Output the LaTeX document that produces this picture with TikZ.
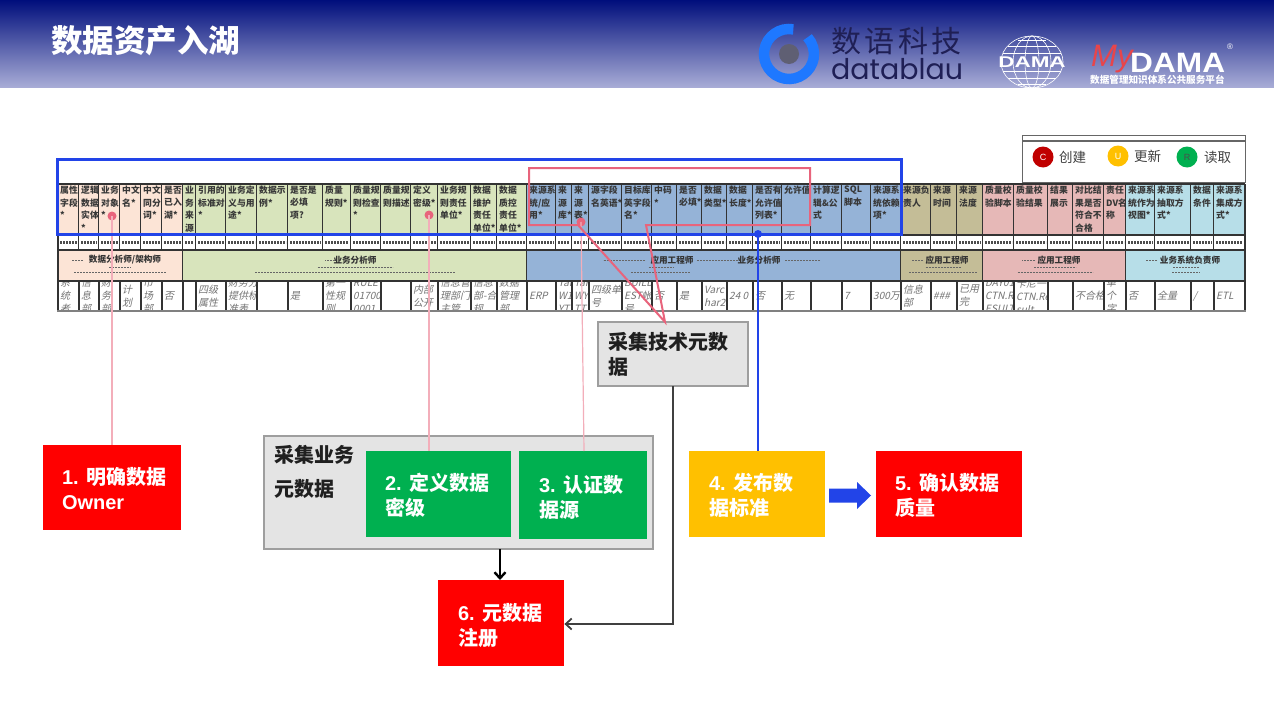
\documentclass[tikz,border=0pt]{standalone}
\usepackage{fontspec}
\setmainfont{Noto Sans CJK SC}
\newfontfamily\lat{Liberation Sans}
\newfontfamily\rowfnt{Noto Sans CJK SC}[FakeSlant=0.22]
\newfontfamily\popp{Poppins}
\usetikzlibrary{arrows.meta,calc}
\definecolor{cpeach}{HTML}{FCE4D6}
\definecolor{cgreen}{HTML}{D8E4BC}
\definecolor{cblue}{HTML}{95B3D7}
\definecolor{ctan}{HTML}{C4BD97}
\definecolor{cpink}{HTML}{E6B8B7}
\definecolor{csky}{HTML}{B7DEE8}
\definecolor{grid}{HTML}{333333}
\definecolor{markpink}{HTML}{E8647C}
\definecolor{softpink}{HTML}{F3AEBA}
\definecolor{markblue}{HTML}{2244E8}
\definecolor{boxred}{HTML}{FF0000}
\definecolor{boxgreen}{HTML}{00B050}
\definecolor{boxyellow}{HTML}{FFC000}
\definecolor{boxgray}{HTML}{E4E4E4}
\definecolor{logoink}{HTML}{1F1F55}
\definecolor{bannertop}{HTML}{000E7C}
\definecolor{bannerbot}{HTML}{A8ACD6}
\definecolor{logoblue}{HTML}{1E78FF}
\definecolor{logogray}{HTML}{5F5F73}
\definecolor{myred}{HTML}{E8454A}
\definecolor{darkred}{HTML}{C00000}
\tikzset{
  stepbox/.style={anchor=north west,inner sep=0pt,outer sep=0pt,align=left,text=white,font=\bfseries\fontsize{20}{25.5}\selectfont},
  graybox/.style={anchor=north west,inner sep=0pt,outer sep=0pt,fill=boxgray,draw=black!38,line width=1.1pt},
  gridline/.style={draw=grid,line width=1.5pt},
  headtext/.style={anchor=north west,inner sep=0pt,align=left,text=black!78,font=\bfseries\fontsize{8.8}{12.5}\selectfont},
  rowtext/.style={anchor=west,inner sep=0pt,align=left,text=black!55,font=\rowfnt\fontsize{10}{13}\selectfont},
  bandtext/.style={inner sep=0pt,text=black!80,font=\bfseries\fontsize{8.6}{10}\selectfont},
  micro/.style={draw=black!70,line width=2.2pt,dash pattern=on 2pt off 1pt},
  tinyline/.style={draw=black!60,line width=1pt,dash pattern=on 2pt off 1pt},
  softlead/.style={draw=softpink,line width=1.2pt},
  pinkmark/.style={draw=markpink,line width=2pt,line join=miter},
  bluemark/.style={draw=markblue,line width=3pt},
  markdot/.style={circle,inner sep=0pt,minimum size=9pt,fill=markpink},
  legenddot/.style={circle,inner sep=0pt,minimum size=21pt,font=\lat\fontsize{9}{9}\selectfont},
  legendtext/.style={anchor=west,inner sep=0pt,text=black!75,font=\fontsize{13.5}{14}\selectfont},
  barb/.style={-{Straight Barb[length=6pt,width=11pt]}}
}
% x0, x1, head fill, head text, bottom row text
\newcommand\tcol[5]{%
  \fill[#3] (#1,184) rectangle (#2,235);
  \node[headtext] (h#1) at ($(#1,186)+(2,0)$) {#4};
  \fill[white] (#1,235) rectangle (#2,250);
  \draw[micro] ($(#1,242.5)+(2,0)$) -- ($(#2,242.5)+(-2,0)$);
  \begin{scope}
    \clip (#1,281) rectangle (#2,310);
    \node[rowtext] (r#1) at ($(#1,296)+(2,0)$) {#5};
  \end{scope}
  \draw[gridline] (#2,184) -- (#2,250) (#2,281) -- (#2,310);
}
% x0, x1, fill, centre, subwidth a, subwidth b
\newcommand\tband[6]{%
  \fill[#3] (#1,250) rectangle (#2,281);
  \draw[gridline] (#2,250) -- (#2,281);
  \draw[tinyline] ($(#4,267)+(-#5/2,0)$) -- ($(#4,267)+(#5/2,0)$);
  \draw[tinyline] ($(#4,272.5)+(-#6/2,0)$) -- ($(#4,272.5)+(#6/2,0)$);
}
\begin{document}
\begin{tikzpicture}[x=1pt,y=-1pt]
\useasboundingbox (0,0) rectangle (1274,720);
\fill[white] (0,0) rectangle (1274,720);
% banner
\shade[top color=bannertop,bottom color=bannerbot] (0,0) rectangle (1274,87);
\node[anchor=west,inner sep=0pt,text=white,font=\bfseries\fontsize{31.5}{32}\selectfont] (title) at (51,41) {数据资产入湖};
% datablau logo
\begin{scope}[shift={(789,54)},y=1pt]
  \draw[color=logoblue,line width=10.5pt] (80:25) arc[start angle=80,end angle=402,radius=25];
  \fill[color=logogray] (0,0) circle (10);
\end{scope}
\node[anchor=west,inner sep=0pt,text=logoink,font=\fontsize{30}{31}\selectfont] (lcn) at (831,41) {数\hspace{3.5pt}语\hspace{3.5pt}科\hspace{3.5pt}技};
\node[anchor=west,inner sep=0pt,text=logoink,font=\popp\fontsize{28.5}{29}\selectfont] (len) at (831,69) {datablau};
% DAMA globe
\begin{scope}[shift={(1032,62)},y=1pt]
  \begin{scope}[draw=white,line width=.6pt]
    \draw (0,0) ellipse (31 and 26);
    \draw (0,0) ellipse (19 and 26);
    \draw (0,0) ellipse (7 and 26);
    \draw (-24,16) -- (24,16) (-29,9) -- (29,9) (-29,-9) -- (29,-9) (-24,-16) -- (24,-16) (-14,-22) -- (14,-22) (-14,22) -- (14,22);
  \end{scope}
\end{scope}
\node[inner sep=0pt,text=white,xscale=1.45,font=\lat\bfseries\fontsize{15.5}{16}\selectfont] (gdama) at (1032,62) {DAMA};
% MyDAMA
\node[anchor=west,inner sep=0pt,text=myred,font=\lat\itshape\fontsize{31}{32}\selectfont] (my) at (1091,59) {My};
\node[anchor=base west,inner sep=0pt,text=white,xscale=1.13,font=\lat\bfseries\fontsize{28}{28}\selectfont] (mdama) at (1130,72) {DAMA};
\node[inner sep=0pt,text=white,font=\lat\fontsize{8}{8}\selectfont] (reg) at (1230,47) {®};
\node[anchor=west,inner sep=0pt,text=white,font=\bfseries\fontsize{9.6}{10}\selectfont] (msub) at (1090,80) {数据管理知识体系公共服务平台};
% legend
\node[anchor=north west,inner sep=0pt,draw=black!60,line width=1.3pt,fill=white,minimum width=223pt,minimum height=47pt] (legend) at (1022,135) {};
\draw[black!60,line width=1.2pt] (legend.north west) ++(0,6) -- ++(223,0);
\node[legenddot,fill=darkred,text=white] (lc) at (1043,157) {C};
\node[legendtext] (lct) at (1059,157) {创建};
\node[legenddot,fill=boxyellow,text=white] (lu) at (1118,156) {U};
\node[legendtext] (lut) at (1134,156) {更新};
\node[legenddot,fill=boxgreen,text=black!70] (lr) at (1187,157) {R};
\node[legendtext] (lrt) at (1204,157) {读取};
% table
\tcol{58}{79}{cpeach}{属性\\字段\\*}{系\\统\\者}
\tcol{79}{99}{cpeach}{逻辑\\数据\\实体\\*}{信\\息\\部}
\tcol{99}{120}{cpeach}{业务\\对象\\*}{财\\务\\部}
\tcol{120}{141}{cpeach}{中文\\名*}{计\\划}
\tcol{141}{162}{cpeach}{中文\\同分\\词*}{市\\场\\部}
\tcol{162}{183}{cpeach}{是否\\已入\\湖*}{否}
\tcol{183}{196}{cgreen}{业\\务\\来\\源}{}
\tcol{196}{226}{cgreen}{引用的\\标准对\\*}{四级\\属性}
\tcol{226}{257}{cgreen}{业务定\\义与用\\途*}{财务分\\提供标\\准表}
\tcol{257}{288}{cgreen}{数据示\\例*}{}
\tcol{288}{323}{cgreen}{是否是\\必填\\项?}{是}
\tcol{323}{351}{cgreen}{质量\\规则*}{第一\\性规\\则}
\tcol{351}{381}{cgreen}{质量规\\则检查\\*}{RULE\\01700\\0001}
\tcol{381}{411}{cgreen}{质量规\\则描述}{}
\tcol{411}{438}{cgreen}{定义\\密级*}{内部\\公开}
\tcol{438}{471}{cgreen}{业务规\\则责任\\单位*}{信息管\\理部门\\主管}
\tcol{471}{497}{cgreen}{数据\\维护\\责任\\单位*}{信息\\部-合\\规}
\tcol{497}{527}{cgreen}{数据\\质控\\责任\\单位*}{数据\\管理\\部}
\tcol{527}{556}{cblue}{来源系\\统/应\\用*}{ERP}
\tcol{556}{572}{cblue}{来\\源\\库*}{Tar\\W1\\YT}
\tcol{572}{589}{cblue}{来\\源\\表*}{Tar\\WY\\TT}
\tcol{589}{622}{cblue}{源字段\\名英语*}{四级单\\号}
\tcol{622}{652}{cblue}{目标库\\英字段\\名*}{BUILD\\EST帐\\号}
\tcol{652}{677}{cblue}{中码\\*}{否}
\tcol{677}{702}{cblue}{是否\\必填*}{是}
\tcol{702}{727}{cblue}{数据\\类型*}{Varc\\har2}
\tcol{727}{753}{cblue}{数据\\长度*}{24 0}
\tcol{753}{782}{cblue}{是否有\\允许值\\列表*}{否}
\tcol{782}{811}{cblue}{允许值}{无}
\tcol{811}{842}{cblue}{计算逻\\辑\&公\\式}{}
\tcol{842}{871}{cblue}{SQL\\脚本}{7}
\tcol{871}{901}{cblue}{来源系\\统依赖\\项*}{300万}
\tcol{901}{931}{ctan}{来源负\\责人}{信息\\部}
\tcol{931}{957}{ctan}{来源\\时间}{\#\#\#}
\tcol{957}{983}{ctan}{来源\\法度}{已用\\完}
\tcol{983}{1014}{cpink}{质量校\\验脚本}{DAY01\\CTN.R\\ESULT}
\tcol{1014}{1048}{cpink}{质量校\\验结果}{卡尼一\\CTN.Re\\sult}
\tcol{1048}{1073}{cpink}{结果\\展示}{}
\tcol{1073}{1104}{cpink}{对比结\\果是否\\符合不\\合格}{不合格}
\tcol{1104}{1126}{cpink}{责任\\DV名\\称}{单\\个\\字}
\tcol{1126}{1155}{csky}{来源系\\统作为\\视图*}{否}
\tcol{1155}{1191}{csky}{来源系\\抽取方\\式*}{全量}
\tcol{1191}{1214}{csky}{数据\\条件}{/}
\tcol{1214}{1245}{csky}{来源系\\集成方\\式*}{ETL}
\tband{58}{183}{cpeach}{120}{22}{92}
\tband{183}{527}{cgreen}{355}{75}{200}
\tband{527}{901}{cblue}{661}{25}{60}
\tband{901}{983}{ctan}{943}{35}{68}
\tband{983}{1126}{cpink}{1055}{42}{75}
\tband{1126}{1245}{csky}{1186}{26}{28}
\node[bandtext] (b1t) at (125,260) {数据分析师/架构师};
\node[bandtext] (b2t) at (355,260) {业务分析师};
\node[bandtext] (b3t) at (672,260) {应用工程师};
\node[bandtext] (b3u) at (759,260) {业务分析师};
\node[bandtext] (b4t) at (947,260) {应用工程师};
\node[bandtext] (b5t) at (1059,260) {应用工程师};
\node[bandtext] (b6t) at (1190,260) {业务系统负责师};
\draw[tinyline] (83,260) -- (72,260) (335,260) -- (325,260) (645,260) -- (603,260) (738,260) -- (697,260) (820,260) -- (785,260) (923,260) -- (912,260) (1035,260) -- (1022,260) (1157,260) -- (1146,260);
\draw[gridline] (58,184) -- (58,310);
\draw[gridline] (58,184) -- (1245,184);
\draw[gridline] (58,235) -- (1245,235);
\draw[gridline] (58,250) -- (1245,250);
\draw[gridline] (58,281) -- (1245,281);
\draw[draw=black!50,line width=1.8pt] (57,311) -- (1246,311);
% lower boxes
\node[graybox,minimum width=389pt,minimum height=113pt] (gbox) at (264,436) {};
\node[anchor=north west,inner sep=0pt,align=left,text=black!88,font=\bfseries\fontsize{20}{34}\selectfont] (gtext) at (274,445) {采集业务\\元数据};
\node[graybox,minimum width=150pt,minimum height=64pt] (tech) at (598,322) {};
\node[anchor=north west,inner sep=0pt,align=left,text=black!88,font=\bfseries\fontsize{20}{25.5}\selectfont] (techt) at (608,332) {采集技术元数\\据};
\node[anchor=north west,fill=boxred,inner sep=0pt,minimum width=138pt,minimum height=85pt] (s1) at (43,445) {};
\node[stepbox] (s1t) at (62,467) {{\lat 1. }明确数据\\{\lat Owner}};
\node[anchor=north west,fill=boxgreen,inner sep=0pt,minimum width=145pt,minimum height=86pt] (s2) at (366,451) {};
\node[stepbox] (s2t) at (385,473) {{\lat 2. }定义数据\\密级};
\node[anchor=north west,fill=boxgreen,inner sep=0pt,minimum width=128pt,minimum height=88pt] (s3) at (519,451) {};
\node[stepbox] (s3t) at (539,475) {{\lat 3. }认证数\\据源};
\node[anchor=north west,fill=boxyellow,inner sep=0pt,minimum width=136pt,minimum height=86pt] (s4) at (689,451) {};
\node[stepbox] (s4t) at (709,473) {{\lat 4. }发布数\\据标准};
\node[anchor=north west,fill=boxred,inner sep=0pt,minimum width=146pt,minimum height=86pt] (s5) at (876,451) {};
\node[stepbox] (s5t) at (895,473) {{\lat 5. }确认数据\\质量};
\node[anchor=north west,fill=boxred,inner sep=0pt,minimum width=126pt,minimum height=86pt] (s6) at (438,580) {};
\node[stepbox] (s6t) at (458,603) {{\lat 6. }元数据\\注册};
% marks over the table
\node[markdot] (d1) at (112,216) {};
\node[markdot] (d2) at (429,215) {};
\node[markdot] (d3) at (581,222) {};
\draw[softlead] (d1.center) -- (d1.center |- s1.north);
\draw[softlead] (d2.center) -- (d2.center |- s2.north);
\coordinate (s3in) at (584,451);
\draw[softlead] (d3.center) -- (s3in);
\draw[bluemark] (57,159) rectangle (901,234);
\coordinate (tip) at (665,322);
\draw[pinkmark] (578,225) -- (529,225) -- (529,168) -- (810,168) -- (810,225) -- (646,225) -- (tip) -- cycle;
\node[circle,inner sep=0pt,minimum size=8pt,fill=markblue] (d4) at (758,234) {};
\draw[draw=markblue,line width=1.8pt] (d4.center) -- (d4.center |- s4.north);
% flow arrows
\coordinate (gx) at (500,549);
\coordinate (tx) at (673,386);
\coordinate (ty) at (673,624);
\draw[barb,draw=black,line width=2.4pt] (gx) -- (gx |- s6.north);
\draw[barb,draw=black!75,line width=1.8pt] (tx) -- (ty) -- (ty -| s6.east);
\fill[markblue] (829,488.5) -- (857,488.5) -- (857,482) -- (871,495.5) -- (857,509) -- (857,502.5) -- (829,502.5) -- cycle;
\end{tikzpicture}
\end{document}
